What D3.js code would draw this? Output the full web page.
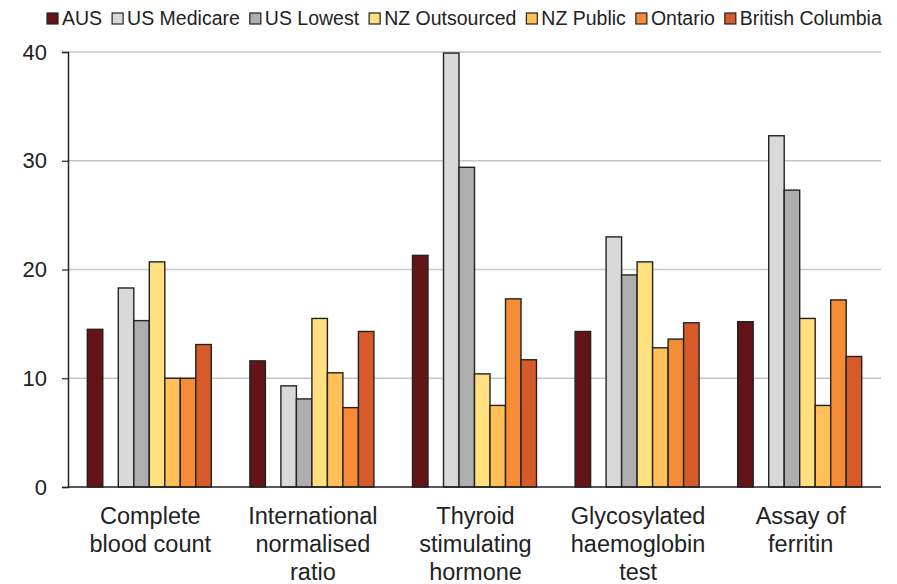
<!DOCTYPE html>
<html lang="en">
<head>
    <meta charset="UTF-8">
    <title>Lab test prices</title>
    <script src="https://d3js.org/d3.v7.min.js"></script>
    <style>
        body {
            margin: 0;
            padding: 0;
            background: #fff;
            font-family: "Liberation Sans", Arial, sans-serif;
        }
        .grid line {
            stroke: #c3c6ca;
            stroke-width: 1.5px;
        }
        .bar {
            stroke: #222;
            stroke-width: 1.4px;
        }
    </style>
</head>
<body>
<script>
    // categories (x label lines)
    const categories = [
        ["Complete", "blood count"],
        ["International", "normalised", "ratio"],
        ["Thyroid", "stimulating", "hormone"],
        ["Glycosylated", "haemoglobin", "test"],
        ["Assay of", "ferritin"]
    ];

    const series = ["AUS", "US Medicare", "US Lowest", "NZ Outsourced", "NZ Public", "Ontario", "British Columbia"];
    const colors = ["#641416", "#d9d9d9", "#aeaeae", "#ffdf7e", "#ffc157", "#f68c35", "#d75a2a"];

    // one value per category, in series order
    const aus          = [14.5, 11.6, 21.3, 14.3, 15.2];
    const usMedicare   = [18.3,  9.3, 39.9, 23.0, 32.3];
    const usLowest     = [15.3,  8.1, 29.4, 19.5, 27.3];
    const nzOutsourced = [20.7, 15.5, 10.4, 20.7, 15.5];
    const nzPublic     = [10.0, 10.5,  7.5, 12.8,  7.5];
    const ontario      = [10.0,  7.3, 17.3, 13.6, 17.2];
    const britishCol   = [13.1, 14.3, 11.7, 15.1, 12.0];

    const yTicks = [0, 10, 20, 30, 40];

    const values = [aus, usMedicare, usLowest, nzOutsourced, nzPublic, ontario, britishCol];

    // the original has an empty slot between AUS and the US bars
    const slots = ["AUS", "", "US Medicare", "US Lowest", "NZ Outsourced", "NZ Public", "Ontario", "British Columbia"];

    const width = 897, height = 584;
    const margin = {left: 68, right: 16, top: 52, bottom: 97};

    const svg = d3.select("body").append("svg")
        .attr("width", width)
        .attr("height", height);

    const x0 = d3.scaleBand()
        .domain(d3.range(categories.length))
        .range([margin.left, width - margin.right])
        .padding(0);

    const x1 = d3.scaleBand()
        .domain(slots)
        .range([0, x0.bandwidth()])
        .paddingInner(0)
        .paddingOuter(1.245);

    const y = d3.scaleLinear()
        .domain([0, 40])
        .range([height - margin.bottom, margin.top]);

    // gridlines
    svg.append("g")
        .attr("class", "grid")
        .selectAll("line")
        .data(yTicks.filter(d => d > 0))
        .join("line")
        .attr("x1", margin.left)
        .attr("x2", width - margin.right)
        .attr("y1", d => y(d))
        .attr("y2", d => y(d));

    // bars
    const rows = [];
    series.forEach((s, i) => {
        values[i].forEach((v, c) => rows.push({s, i, c, v}));
    });

    svg.append("g")
        .selectAll("rect")
        .data(rows)
        .join("rect")
        .attr("class", "bar")
        .attr("x", d => x0(d.c) + x1(d.s))
        .attr("width", x1.bandwidth())
        .attr("y", d => y(d.v))
        .attr("height", d => y(0) - y(d.v))
        .attr("fill", d => colors[d.i]);

    // y axis
    const yAxis = svg.append("g")
        .attr("transform", `translate(${margin.left},0)`)
        .call(d3.axisLeft(y).tickValues(yTicks).tickSize(6).tickPadding(15));
    yAxis.select(".domain").attr("stroke", "#222").attr("stroke-width", 1.5);
    yAxis.selectAll(".tick line").attr("stroke", "#222").attr("stroke-width", 1.2);
    yAxis.selectAll(".tick text")
        .attr("fill", "#222")
        .style("font-family", "'Liberation Sans', Arial, sans-serif")
        .style("font-size", "22px");

    // x baseline
    svg.append("line")
        .attr("x1", margin.left)
        .attr("x2", width - margin.right)
        .attr("y1", y(0))
        .attr("y2", y(0))
        .attr("stroke", "#222")
        .attr("stroke-width", 1.5);

    // x labels
    const xl = svg.append("g")
        .selectAll("text")
        .data(categories)
        .join("text")
        .attr("x", (d, i) => x0(i) + x0.bandwidth() / 2 + 1)
        .attr("y", y(0) + 37)
        .attr("text-anchor", "middle")
        .attr("fill", "#222")
        .style("font-size", "23.5px");
    xl.selectAll("tspan")
        .data(d => d)
        .join("tspan")
        .attr("x", function () { return this.parentNode.getAttribute("x"); })
        .attr("dy", (d, i) => i === 0 ? 0 : 28)
        .text(d => d);

    // legend
    const legend = svg.append("g").attr("transform", "translate(47,0)");
    let lx = 0;
    series.forEach((s, i) => {
        legend.append("rect")
            .attr("x", lx)
            .attr("y", 13)
            .attr("width", 11)
            .attr("height", 11)
            .attr("fill", colors[i])
            .attr("stroke", "#222")
            .attr("stroke-width", 1.2);
        const t = legend.append("text")
            .attr("x", lx + 15)
            .attr("y", 25)
            .attr("fill", "#222")
            .style("font-size", "19.5px")
            .text(s);
        lx += 15 + t.node().getComputedTextLength() + 10;
    });
</script>
</body>
</html>
